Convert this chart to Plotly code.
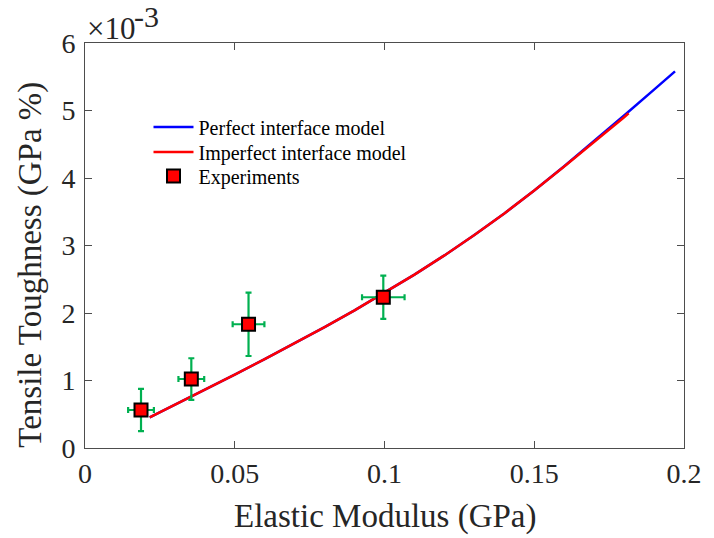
import plotly.graph_objects as go

# Model curves: elastic modulus (GPa) vs tensile toughness (GPa %)
modulus_perfect = [0.0216, 0.03, 0.04, 0.05, 0.06, 0.07, 0.08, 0.09, 0.10, 0.11,
                   0.12, 0.13, 0.14, 0.15, 0.16, 0.17, 0.18, 0.19, 0.197]
toughness_perfect = [0.455e-3, 0.640e-3, 0.862e-3, 1.087e-3, 1.317e-3, 1.552e-3,
                     1.792e-3, 2.040e-3, 2.298e-3, 2.568e-3, 2.853e-3, 3.155e-3,
                     3.475e-3, 3.815e-3, 4.175e-3, 4.545e-3, 4.925e-3, 5.310e-3,
                     5.580e-3]

modulus_imperfect = [0.0216, 0.03, 0.04, 0.05, 0.06, 0.07, 0.08, 0.09, 0.10, 0.11,
                     0.12, 0.13, 0.14, 0.15, 0.16, 0.17, 0.18, 0.1815]
toughness_imperfect = [0.455e-3, 0.640e-3, 0.862e-3, 1.087e-3, 1.317e-3, 1.552e-3,
                       1.792e-3, 2.040e-3, 2.298e-3, 2.568e-3, 2.853e-3, 3.155e-3,
                       3.475e-3, 3.815e-3, 4.170e-3, 4.530e-3, 4.900e-3, 4.960e-3]

# Experimental measurements with error bars
modulus_exp = [0.0187, 0.0355, 0.0546, 0.0996]
modulus_err = [0.0043, 0.0043, 0.0053, 0.0071]
toughness_exp = [0.563e-3, 1.022e-3, 1.833e-3, 2.233e-3]
toughness_err = [0.314e-3, 0.308e-3, 0.470e-3, 0.320e-3]

x_ticks = [0, 0.05, 0.1, 0.15, 0.2]
x_ticktext = ["0", "0.05", "0.1", "0.15", "0.2"]
y_ticks = [i * 1e-3 for i in range(7)]
y_ticktext = [str(i) for i in range(7)]

FONT = "Liberation Serif, Times New Roman, serif"
TXT = "#262626"
AX = "#4d4d4d"

fig = go.Figure()

fig.add_trace(go.Scatter(
    x=modulus_perfect, y=toughness_perfect, mode="lines",
    name="Perfect interface model", legend="legend",
    line=dict(color="#0000ff", width=2.5),
))
fig.add_trace(go.Scatter(
    x=modulus_imperfect, y=toughness_imperfect, mode="lines",
    name="Imperfect interface model", legend="legend2",
    line=dict(color="#ff0000", width=2.5),
))
fig.add_trace(go.Scatter(
    x=modulus_exp, y=toughness_exp, mode="markers",
    name="Experiments", legend="legend3",
    marker=dict(symbol="square", size=13, color="#ff0000",
                line=dict(color="black", width=2)),
    error_x=dict(type="data", array=modulus_err, color="#00b050",
                 thickness=2.2, width=3),
    error_y=dict(type="data", array=toughness_err, color="#00b050",
                 thickness=2.2, width=3),
))

axis_common = dict(
    showline=True, linecolor=AX, linewidth=1, mirror="ticks",
    ticks="inside", ticklen=7, tickwidth=1, tickcolor=AX,
    showgrid=False, zeroline=False,
    tickfont=dict(family=FONT, size=28, color=TXT),
)

legend_common = dict(
    x=0.106, xanchor="left", yanchor="middle",
    bgcolor="rgba(0,0,0,0)", borderwidth=0, itemwidth=40,
    font=dict(family=FONT, size=20, color="black"),
)

fig.update_layout(
    width=714, height=538,
    margin=dict(l=85, r=22, t=43, b=90),
    paper_bgcolor="white", plot_bgcolor="white",
    font=dict(family=FONT, color=TXT),
    xaxis=dict(range=[0, 0.2], tickvals=x_ticks, ticktext=x_ticktext,
               **axis_common),
    yaxis=dict(range=[0, 6e-3], tickvals=y_ticks, ticktext=y_ticktext,
               ticklabelstandoff=3, **axis_common),
    legend=dict(y=0.7926, **legend_common),
    legend2=dict(y=0.7309, **legend_common),
    legend3=dict(y=0.6716, **legend_common),
    showlegend=True,
)

# Axis titles
fig.add_annotation(
    xref="paper", yref="paper", x=0.5, y=-0.17, xanchor="center", yanchor="middle",
    text="Elastic Modulus (GPa)", showarrow=False,
    font=dict(family=FONT, size=33, color=TXT),
)
fig.add_annotation(
    xref="paper", yref="paper", x=-0.0906, y=0.452, xanchor="center", yanchor="middle",
    text="Tensile Toughness (GPa %)", showarrow=False, textangle=-90,
    font=dict(family=FONT, size=33, color=TXT),
)

# Axis exponent label
fig.add_annotation(
    xref="paper", yref="paper", x=0.0, y=1.0, xanchor="left", yanchor="bottom",
    text="×10", showarrow=False, xshift=0, yshift=-5,
    font=dict(family=FONT, size=31, color=TXT),
)
fig.add_annotation(
    xref="paper", yref="paper", x=0.0, y=1.0, xanchor="left", yanchor="bottom",
    text="-3", showarrow=False, xshift=47, yshift=8,
    font=dict(family=FONT, size=30, color=TXT),
)

fig.write_html("out.html")
